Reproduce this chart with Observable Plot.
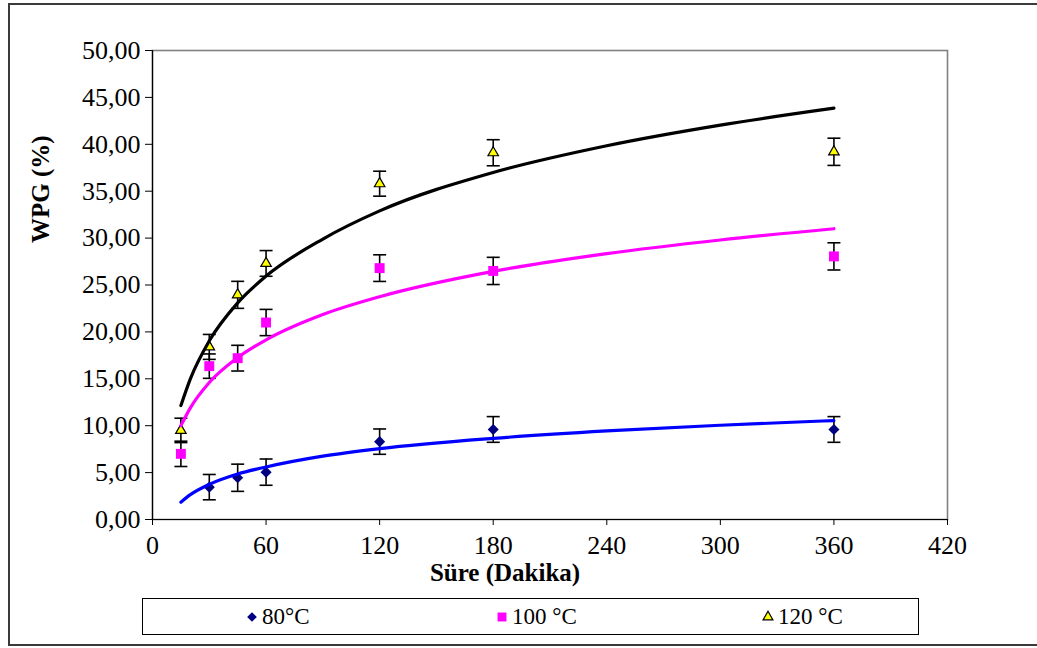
<!DOCTYPE html>
<html>
<head>
<meta charset="utf-8">
<script src="https://cdn.jsdelivr.net/npm/d3@7"></script>
<script src="https://cdn.jsdelivr.net/npm/@observablehq/plot@0.6"></script>
<style>
  body { margin: 0; background: #fff; }
  #frame { position: absolute; left: 8px; top: 3px; width: 1040px; height: 643px;
           border: 2px solid #3a3a3a; box-sizing: border-box; }
  #chart { position: absolute; left: 0; top: 0; }
  #legend { position: absolute; left: 142px; top: 598px; width: 777px; height: 37px;
            border: 1px solid #000; box-sizing: border-box; background: #fff;
            font-family: "Liberation Serif", "Times New Roman", serif; font-size: 23px; color: #000; }
  .item { position: absolute; top: 0; height: 35px; display: flex; align-items: center; }
  .item svg { margin-right: 3px; }
</style>
</head>
<body>
<div id="frame"></div>
<div id="chart"></div>
<div id="legend"></div>
<script>
// Sampling times (minutes)
const minutes = [15, 30, 45, 60, 120, 180, 360];

// Weight percent gain (%) with standard deviations, per treatment temperature
const wpg80 = [null, 3.45, 4.45, 5.05, 8.3, 9.6, 9.6];
const err80 = [null, 1.35, 1.45, 1.4, 1.35, 1.37, 1.37];
const wpg100 = [7.0, 16.35, 17.2, 21.0, 26.8, 26.5, 28.05];
const err100 = [1.35, 1.3, 1.37, 1.4, 1.42, 1.45, 1.45];
const wpg120 = [9.5, 18.4, 23.95, 27.3, 35.8, 39.1, 39.2];
const err120 = [1.3, 1.33, 1.44, 1.37, 1.33, 1.39, 1.45];

// Logarithmic trend lines, sampled along time
const trendMinutes = [15, 20, 30, 45, 60, 90, 120, 180, 240, 300, 360];
const trend80 = [1.85, 2.65, 3.75, 4.85, 5.6, 6.75, 7.55, 8.65, 9.45, 10.05, 10.55];
const trend100 = [10.0, 11.9, 14.6, 17.25, 19.15, 21.85, 23.75, 26.45, 28.35, 29.8, 31.0];
const trend120 = [12.15, 15.0, 19.05, 23.1, 25.95, 29.9, 32.9, 37.0, 39.85, 42.05, 43.85];

const yTicks = [0, 5, 10, 15, 20, 25, 30, 35, 40, 45, 50];
const xTicks = [0, 60, 120, 180, 240, 300, 360, 420];

const series = [
  {name: "80°C", values: wpg80, errors: err80, trend: trend80, line: "#0000ff",
   symbol: "diamond2", r: 5, fill: "#000080", stroke: "none"},
  {name: "100 °C", values: wpg100, errors: err100, trend: trend100, line: "#ff00ff",
   symbol: "square", r: 5.6, fill: "#ff00ff", stroke: "none"},
  {name: "120 °C", values: wpg120, errors: err120, trend: trend120, line: "#000000",
   symbol: "triangle", r: 3.9, fill: "#ffff00", stroke: "#000"}
];

const points = series.flatMap(s => minutes.map((m, i) => ({
  series: s.name, t: m, v: s.values[i], e: s.errors[i]
})).filter(d => d.v != null));
const trends = series.flatMap(s => trendMinutes.map((m, i) => ({series: s.name, t: m, v: s.trend[i]})));

// horizontal cap for the error bars
const cap = {draw(ctx, size) { ctx.moveTo(-6.5, 0); ctx.lineTo(6.5, 0); }};
const fmt = d => d.toFixed(2).replace(".", ",");
const font = "'Liberation Serif', 'Times New Roman', serif";

const marks = [
  Plot.frame({stroke: "#808080", strokeWidth: 1.6}),
  Plot.axisY({ticks: yTicks, tickFormat: fmt, tickSize: 7, tickPadding: 5, fontSize: 26,
              label: null, stroke: "#000"}),
  Plot.axisX({ticks: xTicks, tickFormat: d => String(d), tickSize: 6, tickPadding: 10, fontSize: 26,
              label: null, stroke: "#000"}),
  Plot.ruleX([0], {stroke: "#000", strokeWidth: 1.2}),
  Plot.ruleY([0], {stroke: "#000", strokeWidth: 1.2}),
  Plot.text(["WPG (%)"], {frameAnchor: "left", rotate: -90, dx: -112, dy: -42,
                          fontSize: 25, fontWeight: "bold", fill: "#000"}),
  Plot.text(["Süre (Dakika)"], {frameAnchor: "bottom", dx: -45, dy: 61,
                                fontSize: 25, fontWeight: "bold", fill: "#000"}),
  Plot.ruleX(points, {x: "t", y1: d => d.v - d.e, y2: d => d.v + d.e, stroke: "#000", strokeWidth: 1.6}),
  Plot.dot(points, {x: "t", y: d => d.v + d.e, symbol: cap, r: 3, stroke: "#000", strokeWidth: 1.6}),
  Plot.dot(points, {x: "t", y: d => d.v - d.e, symbol: cap, r: 3, stroke: "#000", strokeWidth: 1.6})
];
for (const s of series) {
  marks.push(Plot.dot(points.filter(d => d.series === s.name),
    {x: "t", y: "v", symbol: s.symbol, r: s.r, fill: s.fill, stroke: s.stroke, strokeWidth: 1.2}));
}
for (const s of series) {
  marks.push(Plot.line(trends.filter(d => d.series === s.name),
    {x: "t", y: "v", stroke: s.line, strokeWidth: 3.2, curve: "monotone-x"}));
}

const chart = Plot.plot({
  width: 1037,
  height: 596,
  marginLeft: 152,
  marginRight: 90,
  marginTop: 50,
  marginBottom: 77,
  style: {fontFamily: font, background: "transparent", color: "#000", overflow: "visible"},
  x: {domain: [0, 420]},
  y: {domain: [0, 50]},
  marks
});
document.getElementById("chart").append(chart);

// Legend below the plot
const legend = d3.select("#legend");
const lefts = [102, 352, 618];
const legendSymbols = {diamond2: [d3.symbolDiamond2, 60], square: [d3.symbolSquare, 80], triangle: [d3.symbolTriangle, 42]};
series.forEach((s, i) => {
  const item = legend.append("div").attr("class", "item").style("left", lefts[i] + "px");
  const [type, size] = legendSymbols[s.symbol];
  item.append("svg").attr("width", 14).attr("height", 14)
    .append("path")
    .attr("transform", "translate(7,7)")
    .attr("d", d3.symbol(type, size)())
    .attr("fill", s.fill)
    .attr("stroke", s.stroke === "none" ? null : s.stroke)
    .attr("stroke-width", 1.2);
  item.append("span").text(s.name);
});
</script>
</body>
</html>
